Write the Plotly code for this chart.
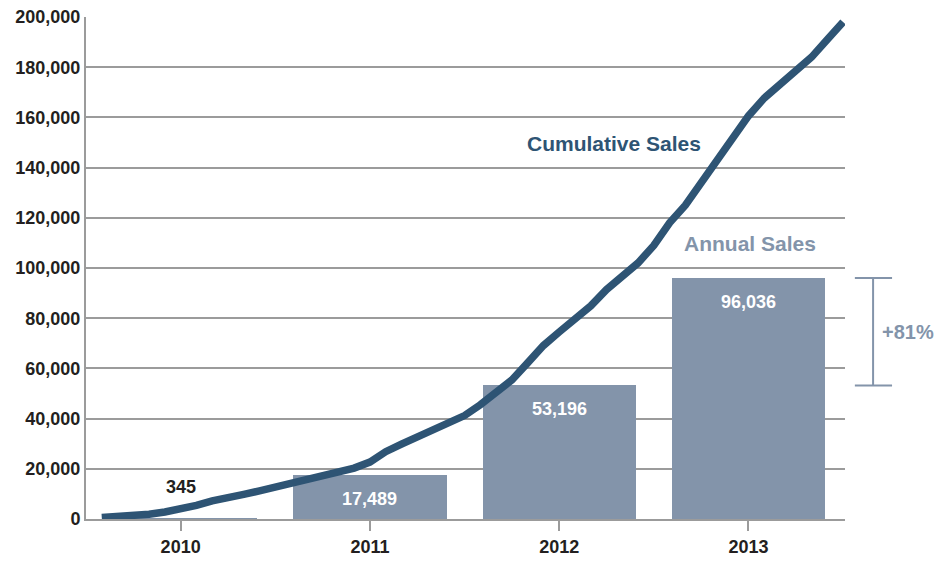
import plotly.graph_objects as go

years = ["2010", "2011", "2012", "2013"]
annual_sales = [345, 17489, 53196, 96036]

# cumulative sales at each month end, Jan 2010 .. Dec 2013
cumulative_sales = [
    600, 900, 1300, 1900, 2800, 3800, 5400, 7200, 8200, 9800, 11200, 12800,
    14300, 16100, 17800, 19000, 20300, 22700, 26800, 29800, 32700, 35500, 38000, 41200,
    45500, 50200, 55400, 62200, 69100, 74500, 79300, 84900, 91400, 97000, 102000, 109000,
    118000, 125000, 134000, 141800, 151800, 160600, 167700, 172900, 178000, 184000, 191000, 198000,
]

yticks = [0, 20000, 40000, 60000, 80000, 100000, 120000, 140000, 160000, 180000, 200000]

FONT = "Liberation Sans Narrow, Arial Narrow, Liberation Sans, Arial, sans-serif"
LINE_C = "#2E5474"
BAR_C = "#8394AA"
GRID_C = "#9B9B9B"
TXT_C = "#231F20"

bar_x = list(range(len(years)))
month_x = [i / 12 - 0.5 + 1 / 12 for i in range(len(cumulative_sales))]

fig = go.Figure()
fig.add_trace(go.Bar(
    x=bar_x, y=annual_sales, width=0.81, marker=dict(color=BAR_C, line=dict(width=0)),
    showlegend=False, hoverinfo="skip",
))
fig.add_trace(go.Scatter(
    x=month_x, y=cumulative_sales, mode="lines",
    line=dict(color=LINE_C, width=7.5), showlegend=False, hoverinfo="skip",
))

annotations = []
for xv, v in zip(bar_x, annual_sales):
    inside = v > 10000
    annotations.append(dict(
        x=xv, y=v, xref="x", yref="y", text=f"{v:,}", showarrow=False,
        xanchor="center", yshift=-24 if inside else 31,
        font=dict(family=FONT, size=18, color="white" if inside else TXT_C, weight="bold"),
    ))

annotations.append(dict(
    x=2.287, y=149800, xref="x", yref="y", text="Cumulative Sales", showarrow=False,
    xanchor="center",
    font=dict(family=FONT, size=21, color=LINE_C, weight="bold"),
))
annotations.append(dict(
    x=3.01, y=109600, xref="x", yref="y", text="Annual Sales", showarrow=False,
    xanchor="center",
    font=dict(family=FONT, size=21, color=BAR_C, weight="bold"),
))

growth = annual_sales[-1] / annual_sales[-2] - 1
mid = (annual_sales[-1] + annual_sales[-2]) / 2
annotations.append(dict(
    x=1.083, y=mid, xref="paper", yref="y", text=f"+{growth:.0%}", showarrow=False,
    xanchor="center",
    font=dict(family=FONT, size=20, color=BAR_C, weight="bold"),
))

shapes = [
    dict(type="line", xref="paper", yref="y", x0=1.037, x1=1.037,
         y0=annual_sales[-2], y1=annual_sales[-1], line=dict(color=BAR_C, width=2)),
    dict(type="line", xref="paper", yref="y", x0=1.013, x1=1.062,
         y0=annual_sales[-1], y1=annual_sales[-1], line=dict(color=BAR_C, width=2)),
    dict(type="line", xref="paper", yref="y", x0=1.013, x1=1.062,
         y0=annual_sales[-2], y1=annual_sales[-2], line=dict(color=BAR_C, width=2)),
]

fig.update_layout(
    width=945, height=569,
    margin=dict(l=78, r=108, t=9, b=58),
    paper_bgcolor="white", plot_bgcolor="white",
    annotations=annotations, shapes=shapes,
    bargap=0,
    xaxis=dict(
        range=[-0.5, 3.51], tickmode="array", tickvals=bar_x, ticktext=years,
        showgrid=False, zeroline=False, showline=True, linecolor=GRID_C, linewidth=2,
        ticks="outside", ticklen=10, tickwidth=2, tickcolor=GRID_C,
        tickfont=dict(family=FONT, size=18, color=TXT_C, weight="bold"),
        automargin=False, ticklabeloverflow="allow",
    ),
    yaxis=dict(
        range=[0, 200000], tickmode="array", tickvals=yticks,
        ticktext=[f"{t:,}" for t in yticks],
        showgrid=True, gridcolor=GRID_C, gridwidth=2, zeroline=False,
        showline=True, linecolor=GRID_C, linewidth=2, ticks="", ticklen=0,
        tickfont=dict(family=FONT, size=18, color=TXT_C, weight="bold"),
        automargin=False, ticklabeloverflow="allow",
    ),
)

fig.write_html("out.html")
